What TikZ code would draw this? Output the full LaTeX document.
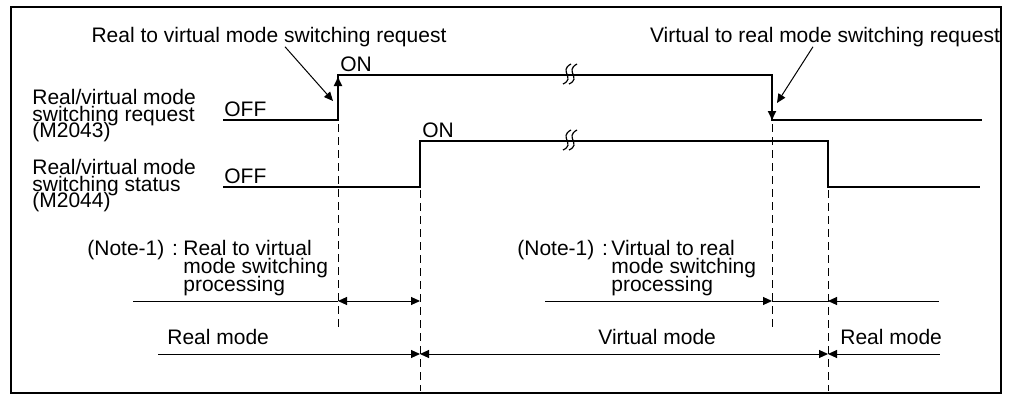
\documentclass[tikz,border=0pt]{standalone}
\usepackage{fontspec}
\setmainfont{Liberation Sans}
\usetikzlibrary{arrows.meta}
\lineskiplimit=-20pt

\begin{document}
\begin{tikzpicture}[x=0.5pt, y=-0.5pt, >={Triangle[length=4.5pt,width=4pt]},
    lbl/.style={inner sep=0pt, font=\fontsize{10.5}{8.3}\selectfont},
    note/.style={inner sep=0pt, font=\fontsize{10.5}{9}\selectfont},
    sig/.style={line width=1pt},
    fine/.style={line width=0.5pt},
    guide/.style={line width=0.5pt, dash pattern=on 4pt off 2.5pt}]
    \useasboundingbox (0,0) rectangle (1009,396);
    \draw[line width=1.25pt] (11,7) rectangle (1001,393);

    \node[lbl, anchor=north west, align=left] (req) at (32,89) {Real/virtual mode\\switching request\\(M2043)};
    \node[lbl, anchor=north west, align=left] (stat) at (32,159) {Real/virtual mode\\switching status\\(M2044)};

    \node[lbl, anchor=base west] (off1) at (224,117) {OFF};
    \node[lbl, anchor=base west] (off2) at (224,184) {OFF};
    \node[lbl, anchor=base west] (on1) at (340,71) {ON};
    \node[lbl, anchor=base west] (on2) at (422,137) {ON};

    \draw[sig] (223,120) -- (338,120) -- (338,75) -- (772,75) -- (772,120) -- (982,120);
    \draw[sig] (223,187) -- (420,187) -- (420,141) -- (828,141) -- (828,187) -- (980,187);
    \draw[sig, ->] (338,100) -- (338,77);
    \draw[sig, ->] (772,95) -- (772,120);
    \foreach \y in {75,141}
        \foreach \dx in {0,6}
            \draw[line width=0.6pt] (571+\dx,\y-11) .. controls (558+\dx,\y-4) and (576+\dx,\y+3) .. (563+\dx,\y+9);

    \node[lbl, anchor=base] (r2v) at (269,42) {Real to virtual mode switching request};
    \node[lbl, anchor=base] (v2r) at (825,42) {Virtual to real mode switching request};
    \coordinate (r2vtip) at (333,101);
    \coordinate (v2rtip) at (777,103);
    \draw[fine, ->] ([xshift=8pt]r2v.south) -- (r2vtip);
    \draw[fine, ->] ([xshift=-6pt]v2r.south) -- (v2rtip);

    \draw[guide] (338,124) -- (338,327);
    \draw[guide] (420,190) -- (420,391);
    \draw[guide] (772,124) -- (772,330);
    \draw[guide] (828,190) -- (828,391);

    \node[note, anchor=base west] (n1) at (87,255) {(Note-1)\kern1pt{} :};
    \node[note, anchor=north west, align=left] (n1txt) at (183,240) {Real to virtual\\mode switching\\processing};
    \node[note, anchor=base west] (n2) at (517,255) {(Note-1)\kern1pt{} :};
    \node[note, anchor=north west, align=left] (n2txt) at (611,240) {Virtual to real\\mode switching\\processing};

    \coordinate (a0) at (133,301);
    \coordinate (a1) at (338,301);
    \coordinate (a2) at (420,301);
    \coordinate (a3) at (545,301);
    \coordinate (a4) at (772,301);
    \coordinate (a5) at (828,301);
    \coordinate (a6) at (939,301);
    \draw[fine] (a0) -- (a1);
    \draw[fine, <->] (a1) -- (a2);
    \draw[fine, ->] (a3) -- (a4);
    \draw[fine] (a4) -- (a5);
    \draw[fine, <-] (a5) -- (a6);

    \node[lbl, anchor=base west] (real1) at (167,344) {Real mode};
    \node[lbl, anchor=base west] (virt) at (598,344) {Virtual mode};
    \node[lbl, anchor=base west] (real2) at (840,344) {Real mode};

    \coordinate (b0) at (158,354);
    \coordinate (b1) at (420,354);
    \coordinate (b2) at (828,354);
    \coordinate (b3) at (940,354);
    \draw[fine, ->] (b0) -- (b1);
    \draw[fine, <->] (b1) -- (b2);
    \draw[fine, <-] (b2) -- (b3);
\end{tikzpicture}
\end{document}
